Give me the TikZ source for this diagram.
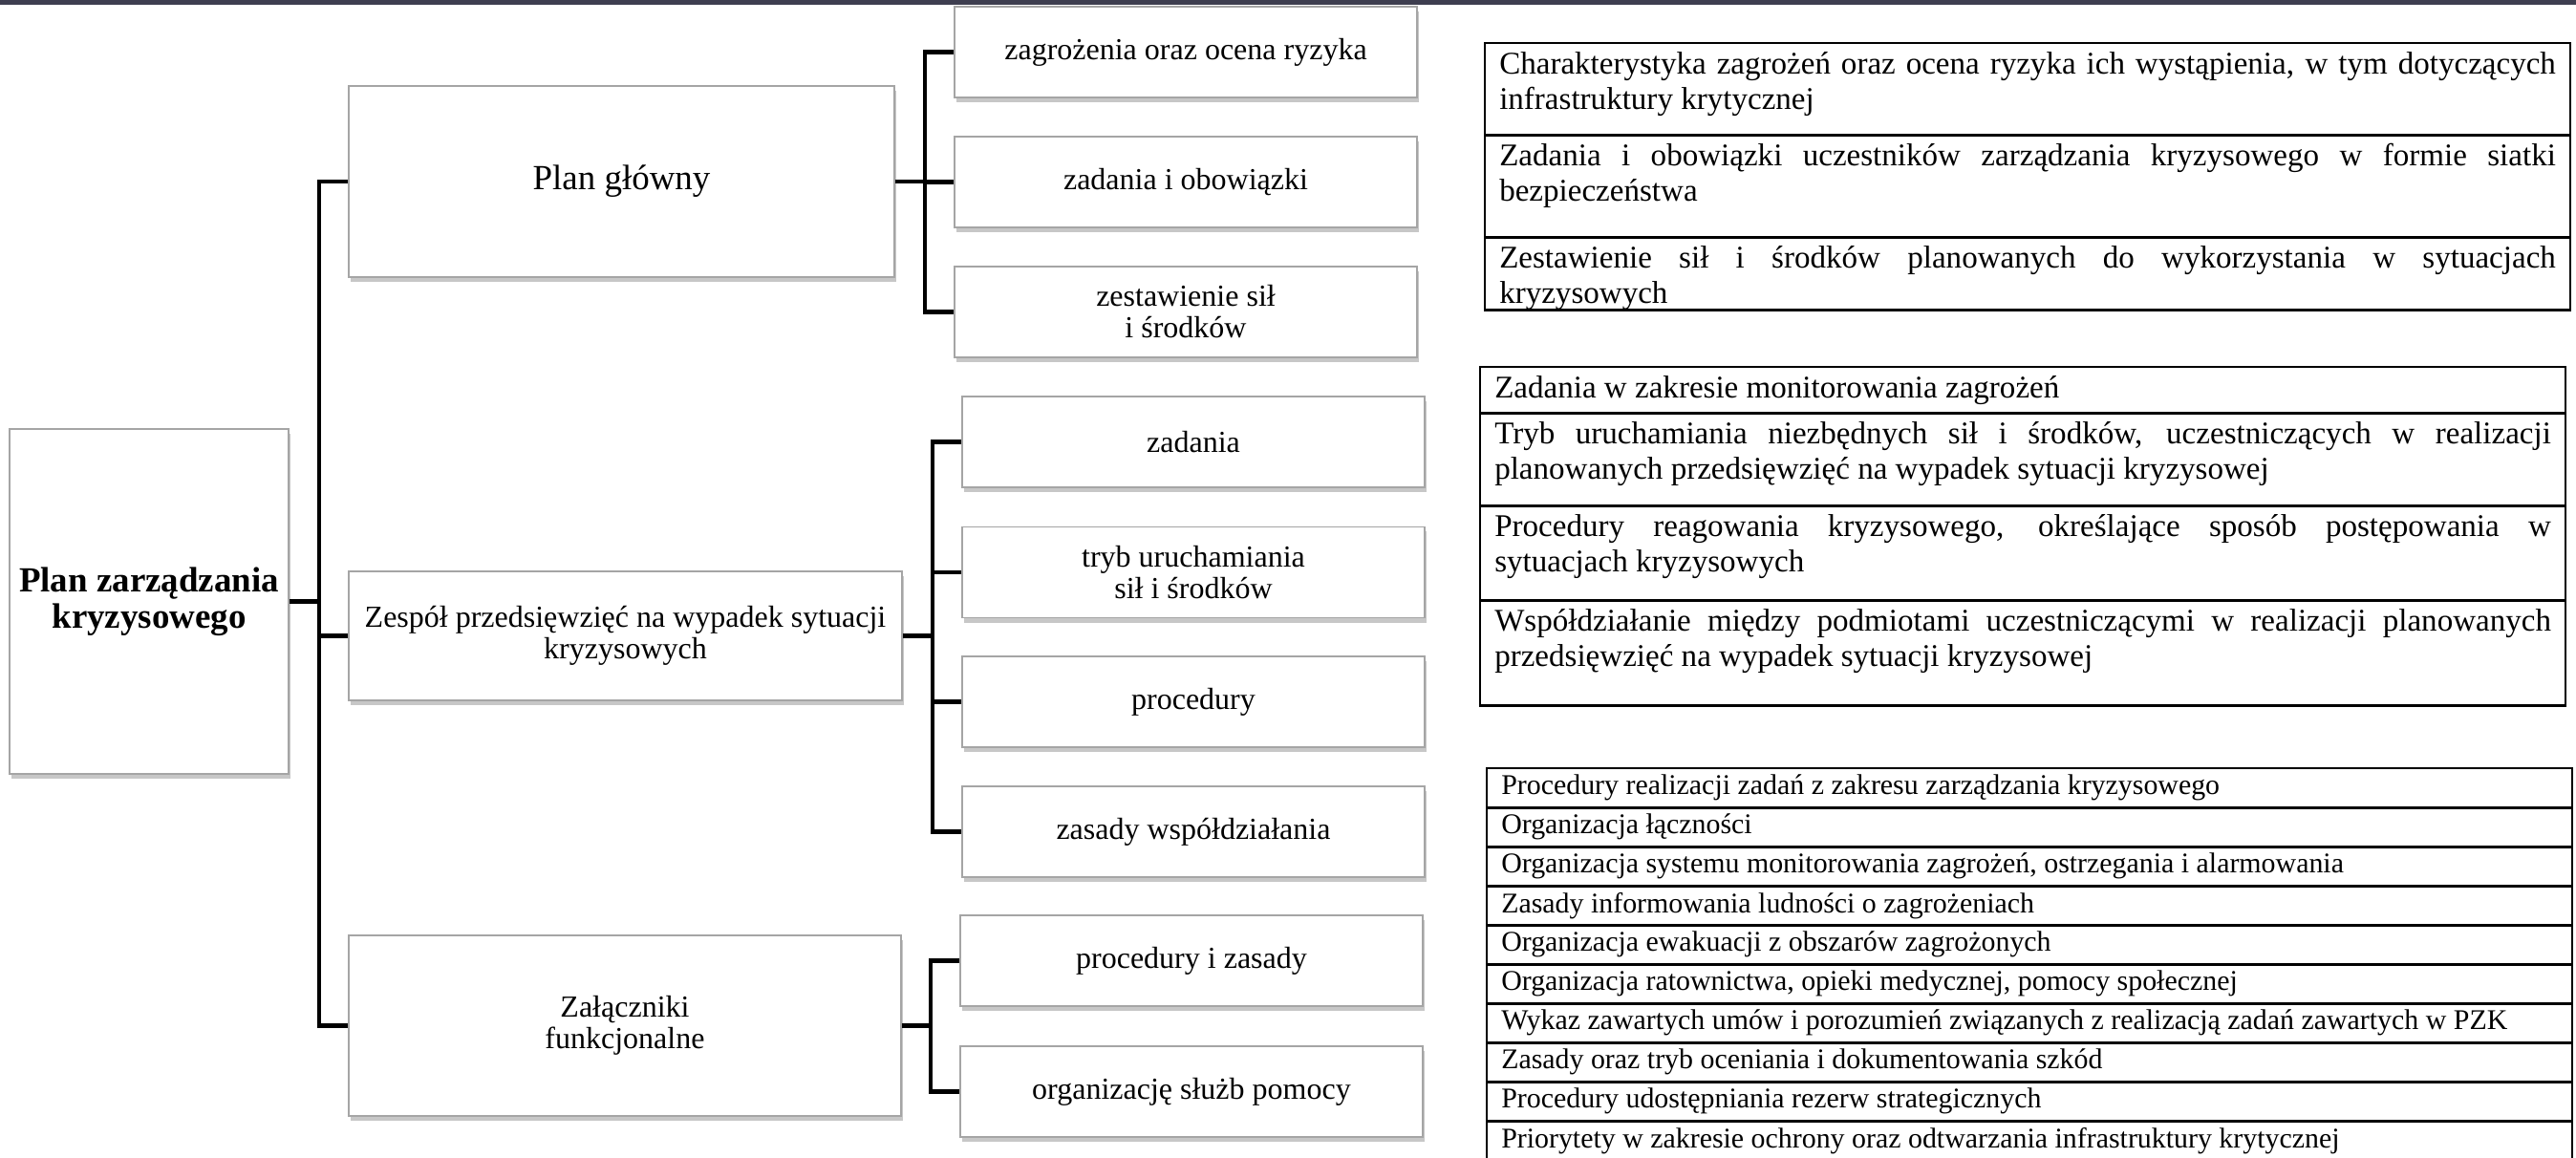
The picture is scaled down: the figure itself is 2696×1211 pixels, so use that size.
\documentclass[tikz,border=0pt]{standalone}
\usepackage{fontspec}
\setmainfont{Liberation Serif}
\usetikzlibrary{shadows}

\definecolor{topbar}{RGB}{62,62,80}
\definecolor{boxline}{RGB}{165,165,165}

\hyphenpenalty=10000
\exhyphenpenalty=10000
\tolerance=9999

% text of a table row, kept at the top of a row of height #1
\newcommand{\rowtext}[2]{\vbox to #1{\vskip 0.06cm\noindent\strut #2\vfill}}

\begin{document}
\begin{tikzpicture}[x=0.01cm,y=-0.01cm,
    box/.style={draw=boxline,line width=0.4pt,fill=white,align=center,inner sep=2pt,
        drop shadow={shadow xshift=0.02cm,shadow yshift=-0.05cm,fill=black,opacity=0.22}},
    big/.style={box,font=\fontsize{10.5}{10.7}\selectfont},
    mid/.style={box,font=\fontsize{9.1}{9.4}\selectfont},
    leaf/.style={mid,minimum width=4.84cm,minimum height=0.95cm},
    link/.style={line width=1.3pt},
    cell/.style={draw,line width=0.7pt,anchor=north west,inner xsep=0.15cm,inner ysep=0pt,
        text width=11.05cm,align=justify,font=\fontsize{9.4}{10.5}\selectfont},
    item/.style={cell,minimum height=0.41cm,align=flush left,font=\fontsize{8.5}{9.4}\selectfont}]

\useasboundingbox (0,0) rectangle (2696,1211);
\clip (0,0) rectangle (2696,1211);

\fill[topbar] (0,0) rectangle (2696,4.5);

\node[big,font=\fontsize{10.5}{10.7}\selectfont\bfseries,minimum width=2.92cm,minimum height=3.61cm]
    (root) at (156,629.5) {Plan zarządzania\\kryzysowego};

\node[big,minimum width=5.71cm,minimum height=2cm] (pg) at (650.5,190) {Plan główny};
\node[mid,minimum width=5.79cm,minimum height=1.35cm] (zp) at (654.5,665.5)
    {Zespół przedsięwzięć na wypadek sytuacji\\kryzysowych};
\node[mid,minimum width=5.78cm,minimum height=1.89cm] (zf) at (654,1073.5) {Załączniki\\funkcjonalne};

\node[leaf] (a1) at (1241,54.5) {zagrożenia oraz ocena ryzyka};
\node[leaf] (a2) at (1241,190.5) {zadania i obowiązki};
\node[leaf] (a3) at (1241,326.5) {zestawienie sił\\i środków};

\node[leaf] (b1) at (1249,462.5) {zadania};
\node[leaf] (b2) at (1249,599) {tryb uruchamiania\\sił i środków};
\node[leaf] (b3) at (1249,734.5) {procedury};
\node[leaf] (b4) at (1249,870.5) {zasady współdziałania};

\node[leaf] (c1) at (1247,1005.5) {procedury i zasady};
\node[leaf] (c2) at (1247,1142.5) {organizację służb pomocy};

\coordinate (j0) at (334,0);
\coordinate (j1) at (968,0);
\coordinate (j2) at (976,0);
\coordinate (j3) at (974,0);

\path [draw,link]
    (root.east) -- (root.east -| j0)
    (pg.west) -- (pg.west -| j0) -- (zf.west -| j0) -- (zf.west)
    (zp.west) -- (zp.west -| j0)
    % plan glowny
    (pg.east) -- (pg.east -| j1)
    (a1.west) -- (a1.west -| j1) -- (a3.west -| j1) -- (a3.west)
    (a2.west) -- (a2.west -| j1)
    % zespol
    (zp.east) -- (zp.east -| j2)
    (b1.west) -- (b1.west -| j2) -- (b4.west -| j2) -- (b4.west)
    (b2.west) -- (b2.west -| j2)
    (b3.west) -- (b3.west -| j2)
    % zalaczniki
    (zf.east) -- (zf.east -| j3)
    (c1.west) -- (c1.west -| j3) -- (c2.west -| j3) -- (c2.west)
;

\node[cell] (t1a) at (1553,44) {\rowtext{0.96cm}{Charakterystyka zagrożeń oraz ocena ryzyka ich wystąpienia, w tym dotyczących\linebreak infrastruktury krytycznej}};
\node[cell] (t1b) at (1553,140) {\rowtext{1.07cm}{Zadania i obowiązki uczestników zarządzania kryzysowego w formie siatki\linebreak bezpieczeństwa}};
\node[cell] (t1c) at (1553,247) {\rowtext{0.76cm}{Zestawienie sił i środków planowanych do wykorzystania w sytuacjach\linebreak kryzysowych}};

\node[cell] (t2a) at (1548,383) {\rowtext{0.48cm}{Zadania w zakresie monitorowania zagrożeń}};
\node[cell] (t2b) at (1548,431) {\rowtext{0.97cm}{Tryb uruchamiania niezbędnych sił i środków, uczestniczących w realizacji\linebreak planowanych przedsięwzięć na wypadek sytuacji kryzysowej}};
\node[cell] (t2c) at (1548,528) {\rowtext{0.99cm}{Procedury reagowania kryzysowego, określające sposób postępowania w\linebreak sytuacjach kryzysowych}};
\node[cell] (t2d) at (1548,627) {\rowtext{1.10cm}{Współdziałanie między podmiotami uczestniczącymi w realizacji planowanych\linebreak przedsięwzięć na wypadek sytuacji kryzysowej}};

\node[item] (t3a) at (1555,803) {Procedury realizacji zadań z zakresu zarządzania kryzysowego};
\node[item] (t3b) at (1555,844) {Organizacja łączności};
\node[item] (t3c) at (1555,885) {Organizacja systemu monitorowania zagrożeń, ostrzegania i alarmowania};
\node[item] (t3d) at (1555,926) {Zasady informowania ludności o zagrożeniach};
\node[item] (t3e) at (1555,967) {Organizacja ewakuacji z obszarów zagrożonych};
\node[item] (t3f) at (1555,1008) {Organizacja ratownictwa, opieki medycznej, pomocy społecznej};
\node[item] (t3g) at (1555,1049) {Wykaz zawartych umów i porozumień związanych z realizacją zadań zawartych w PZK};
\node[item] (t3h) at (1555,1090) {Zasady oraz tryb oceniania i dokumentowania szkód};
\node[item] (t3i) at (1555,1131) {Procedury udostępniania rezerw strategicznych};
\node[item] (t3j) at (1555,1172) {Priorytety w zakresie ochrony oraz odtwarzania infrastruktury krytycznej};

\end{tikzpicture}
\end{document}
